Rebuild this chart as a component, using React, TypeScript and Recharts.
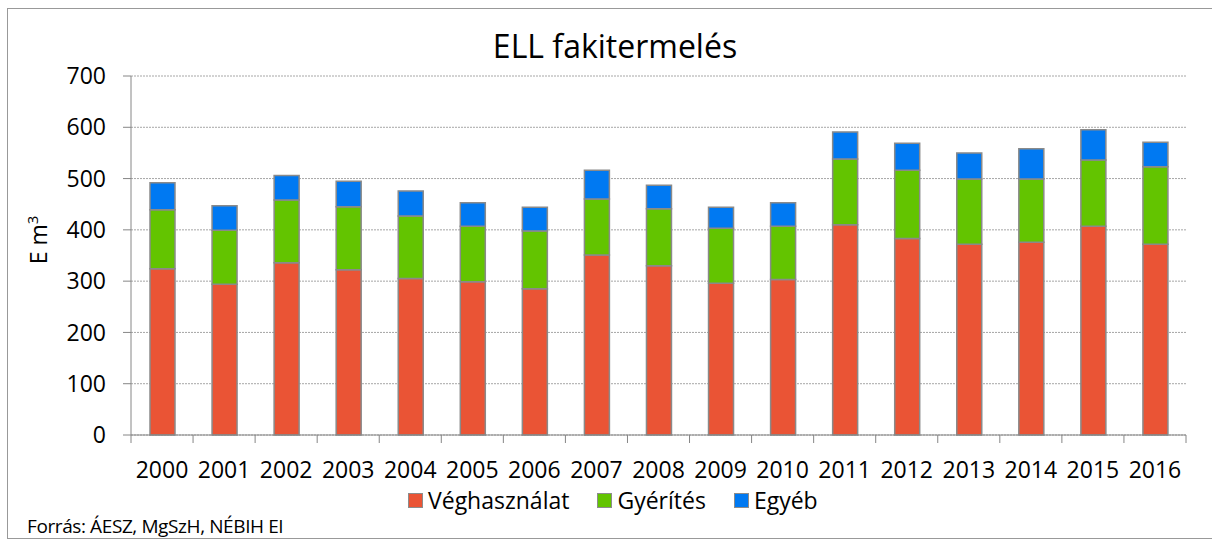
import React from "react"
import { BarChart, Bar, XAxis, YAxis, CartesianGrid, Legend, Label } from "recharts"

const years = ["2000", "2001", "2002", "2003", "2004", "2005", "2006", "2007", "2008", "2009", "2010", "2011", "2012", "2013", "2014", "2015", "2016"]
const veghasznalat = [324, 294, 336, 322, 305, 299, 285, 351, 330, 296, 303, 410, 383, 372, 376, 407, 372]
const gyerites = [115, 105, 122, 123, 122, 108, 113, 109, 111, 107, 104, 128, 133, 127, 123, 129, 151]
const egyeb = [53, 48, 48, 50, 49, 46, 46, 56, 46, 41, 46, 53, 53, 51, 59, 59, 48]
const yTicks = [0, 100, 200, 300, 400, 500, 600, 700]
const seriesNames = ["Véghasználat", "Gyérítés", "Egyéb"]

const data = years.map((year, i) => ({
  year,
  veg: veghasznalat[i],
  gyer: gyerites[i],
  egyeb: egyeb[i],
}))

const AXIS = "#868686"
const FONT = "'Open Sans', sans-serif"

// ticks sit between the categories, like in Excel
const YearTick = (props: any) => {
  const { x, y, payload, index, visibleTicksCount } = props
  const half = payload.offset ?? 31
  const axisY = y - 27
  const last = index === (visibleTicksCount ?? years.length) - 1
  return (
    <g>
      <line x1={x - half} x2={x - half} y1={axisY} y2={axisY + 8} stroke={AXIS} />
      {last && <line x1={x + half} x2={x + half} y1={axisY} y2={axisY + 8} stroke={AXIS} />}
      <text x={x} y={y} dy="0.71em" textAnchor="middle" fontSize={23} fill="#000">
        {payload.value}
      </text>
    </g>
  )
}

const LegendContent = (props: any) => {
  const items = [...(props.payload || [])].sort(
    (a: any, b: any) => seriesNames.indexOf(a.value) - seriesNames.indexOf(b.value)
  )
  return (
    <div style={{ display: "flex", alignItems: "center", fontFamily: FONT, fontSize: 23, lineHeight: "24px" }}>
      {items.map((entry: any) => (
        <div key={entry.value} style={{ display: "flex", alignItems: "center", marginRight: 28 }}>
          <span
            style={{
              display: "inline-block",
              width: 13,
              height: 13,
              background: entry.color,
              border: "1px solid #8c8c8c",
              marginRight: 5,
            }}
          />
          <span style={{ color: "#000" }}>{entry.value}</span>
        </div>
      ))}
    </div>
  )
}

export default function App() {
  return (
    <div style={{ position: "absolute", left: 0, top: 0, width: 1212, height: 540, fontFamily: FONT, background: "#fff", overflow: "hidden" }}>
      <div style={{ position: "absolute", left: 7, top: 8, width: 1230, height: 529, border: "1px solid #999" }} />
      <div style={{ position: "absolute", left: 0, top: 30, width: 1230, textAlign: "center", fontSize: 32, lineHeight: "32px", color: "#000" }}>
        ELL fakitermelés
      </div>
      <div style={{ position: "absolute", left: 27, top: 515, fontSize: 19, lineHeight: "22px", letterSpacing: -0.4, color: "#000" }}>
        Forrás: ÁESZ, MgSzH, NÉBIH EI
      </div>
      <div style={{ position: "absolute", left: 0, top: 0 }}>
        <BarChart width={1212} height={540} data={data} margin={{ top: 76, right: 26, bottom: 75, left: 71 }} barSize={25}>
          <CartesianGrid vertical={false} stroke="#a6a6a6" strokeDasharray="2 1" />
          <XAxis
            dataKey="year"
            stroke={AXIS}
            tickLine={false}
            tickSize={8}
            tickMargin={19}
            interval={0}
            tick={<YearTick />}
          />
          <YAxis
            domain={[0, 700]}
            ticks={yTicks}
            width={60}
            stroke={AXIS}
            tickSize={8}
            tickMargin={17}
            tick={{ fill: "#000", fontSize: 23 }}
          >
            <Label
              content={() => (
                <text transform="translate(47,240) rotate(-90)" textAnchor="middle" fontSize={23} fill="#000">
                  E m
                  <tspan fontSize={15} dy="-0.6em">3</tspan>
                </text>
              )}
            />
          </YAxis>
          <Legend
            layout="horizontal"
            verticalAlign="middle"
            align="center"
            wrapperStyle={{ top: 488, left: 408, width: 500 }}
            content={<LegendContent />}
          />
          <Bar dataKey="veg" name={seriesNames[0]} stackId="a" fill="#EA5435" stroke="#8a8a8a" strokeWidth={1.5} isAnimationActive={false} />
          <Bar dataKey="gyer" name={seriesNames[1]} stackId="a" fill="#63C400" stroke="#8a8a8a" strokeWidth={1.5} isAnimationActive={false} />
          <Bar dataKey="egyeb" name={seriesNames[2]} stackId="a" fill="#0079F2" stroke="#8a8a8a" strokeWidth={1.5} isAnimationActive={false} />
        </BarChart>
      </div>
    </div>
  )
}
